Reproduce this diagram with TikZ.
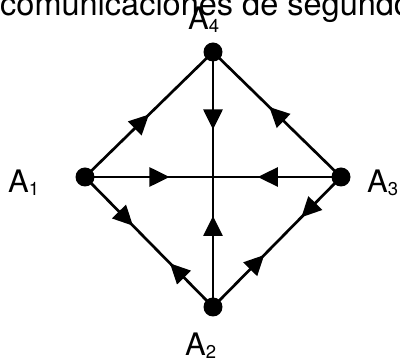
\documentclass[tikz,border=0pt]{standalone}
\usepackage{fontspec}
\setmainfont{TeX Gyre Heros}
\usetikzlibrary{arrows.meta,decorations.markings}
\newcommand\alab[1]{A\raisebox{-2.5pt}{\fontsize{18.5}{18.5}\selectfont #1}}
\tikzset{
  dot/.style={circle,fill=black,minimum size=19pt,inner sep=0pt},
  lab/.style={anchor=base west,inner sep=0pt,font=\fontsize{31}{31}\selectfont},
  edge/.style={line width=2.7pt},
  tipat/.style={postaction={decorate,decoration={markings,mark=at position #1 with {\arrow{Triangle[length=20pt,width=19pt]}}}}},
  rtipat/.style={postaction={decorate,decoration={markings,mark=at position #1 with {\arrowreversed{Triangle[length=20pt,width=19pt]}}}}},
}
\begin{document}
\begin{tikzpicture}[x=1pt,y=-1pt]
\useasboundingbox (0,0) rectangle (400,358);
\node[anchor=base west,inner sep=0pt,font=\fontsize{32.5}{32.5}\selectfont] (title) at (0,15.5) {comunicaciones de segundo};
\node[dot] (a4) at (213,52) {};
\node[dot] (a1) at (85,177) {};
\node[dot] (a3) at (341,177) {};
\node[dot] (a2) at (213,307) {};
\coordinate (c) at (213,177);
\draw[edge,tipat=0.5] (a1.center) -- (a4.center);
\draw[edge,tipat=0.56] (a3.center) -- (a4.center);
\draw[edge,tipat=0.62] (a4.center) -- (c);
\draw[edge,tipat=0.66] (a1.center) -- (c);
\draw[edge,tipat=0.65] (a3.center) -- (c);
\draw[edge,tipat=0.70] (a2.center) -- (c);
\draw[edge,tipat=0.375,rtipat=0.664] (a1.center) -- (a2.center);
\draw[edge,tipat=0.31,rtipat=0.60] (a3.center) -- (a2.center);
\node[lab] (l4) at (188,30) {\alab{4}};
\node[lab] (l1) at (8,193) {\alab{1}};
\node[lab] (l3) at (367,193) {\alab{3}};
\node[lab] (l2) at (185,356) {\alab{2}};
\end{tikzpicture}
\end{document}
